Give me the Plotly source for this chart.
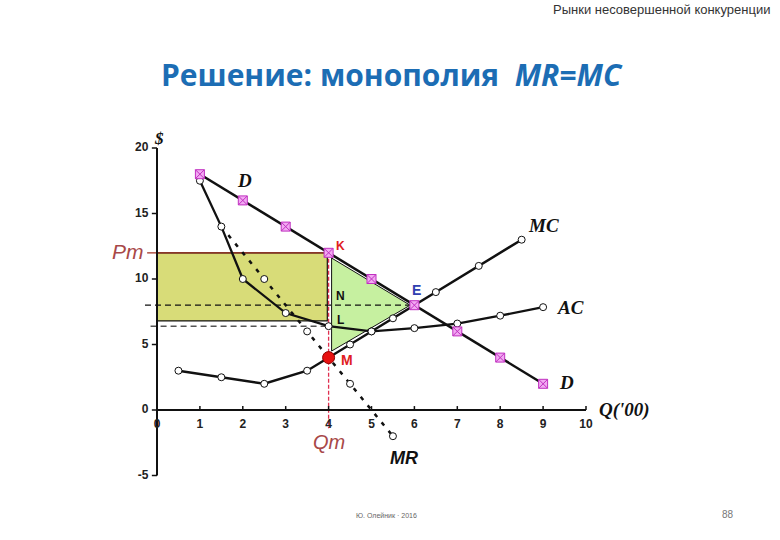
import plotly.graph_objects as go

# ---------------- data ----------------
d_q = [1, 2, 3, 4, 5, 6, 7, 8, 9]
d_p = [18, 16, 14, 12, 10, 8, 6, 4, 2]

mr_q = [1.5, 2.5, 3.5, 4.5, 5.5]
mr_p = [14, 10, 6, 2, -2]

ac_q = [1, 1.5, 2, 3, 4, 5, 6, 7, 8, 9]
ac_p = [17.5, 14, 10, 7.4, 6.4, 6.0, 6.25, 6.6, 7.2, 7.85]

mc_q = [0.5, 1.5, 2.5, 3.5, 4, 4.5, 5, 5.5, 6, 6.5, 7.5, 8.5]
mc_p = [3.0, 2.5, 2.0, 3.0, 4.0, 5.0, 6.0, 7.0, 8.0, 9.0, 11.0, 13.0]

q_m = 4          # monopoly output
q_e = 6          # competitive point E
rect_bottom = 6.8

x_ticks = [0, 1, 2, 3, 4, 5, 6, 7, 8, 9, 10]
y_ticks = [-5, 0, 5, 10, 15, 20]
x_tick_labels = [str(v) for v in x_ticks]
y_tick_labels = [str(v) for v in y_ticks]

# derived values
p_m = d_p[d_q.index(q_m)]          # Pm = 12
p_e = d_p[d_q.index(q_e)]          # 8
mc_at_qm = mc_p[mc_q.index(q_m)]   # 4
ac_at_qm = ac_p[ac_q.index(q_m)]   # 6.4

BLACK = "#111111"
fig = go.Figure()

# shaded rectangle (monopoly profit)
fig.add_shape(type="rect", x0=0, x1=q_m - 0.03, y0=rect_bottom, y1=p_m,
              fillcolor="#d8dc78", line=dict(color=BLACK, width=1.2), layer="below")
# green triangle (deadweight loss)
fig.add_trace(go.Scatter(x=[q_m + 0.07, q_e - 0.1, q_m + 0.07, q_m + 0.07],
                         y=[p_m - 0.4, p_e, mc_at_qm + 0.5, p_m - 0.4],
                         fill="toself", fillcolor="#c6f0a0", mode="lines",
                         line=dict(color=BLACK, width=1), hoverinfo="skip",
                         showlegend=False))

# guide lines
fig.add_trace(go.Scatter(x=[-0.23, q_m], y=[p_m, p_m], mode="lines",
                         line=dict(color="#a03020", width=1.2), showlegend=False))
fig.add_trace(go.Scatter(x=[-0.28, q_e], y=[p_e, p_e], mode="lines",
                         line=dict(color=BLACK, width=1.2, dash="6px,4px"), showlegend=False))
fig.add_trace(go.Scatter(x=[-0.15, q_m], y=[ac_at_qm, ac_at_qm], mode="lines",
                         line=dict(color="#555555", width=1.5, dash="6px,4px"), showlegend=False))
fig.add_trace(go.Scatter(x=[q_m, q_m], y=[p_m, -1.4], mode="lines",
                         line=dict(color="#e03050", width=1.3, dash="4px,2px"), showlegend=False))

# axes drawn as lines
fig.add_trace(go.Scatter(x=[0, 0], y=[min(y_ticks), max(y_ticks)], mode="lines",
                         line=dict(color=BLACK, width=2), showlegend=False))
fig.add_trace(go.Scatter(x=[0, max(x_ticks)], y=[0, 0], mode="lines",
                         line=dict(color=BLACK, width=2), showlegend=False))
for v in y_ticks:
    fig.add_shape(type="line", x0=-0.12, x1=0, y0=v, y1=v, line=dict(color=BLACK, width=1.5))
for v in x_ticks[1:]:
    fig.add_shape(type="line", x0=v, x1=v, y0=0, y1=0.3, line=dict(color=BLACK, width=1.5))

fig.add_trace(go.Scatter(x=[-0.2] * len(y_ticks), y=y_ticks,
                         text=["<b>%s</b>" % t for t in y_tick_labels],
                         mode="text", textposition="middle left",
                         textfont=dict(family="Liberation Sans", size=12, color="#222222"),
                         showlegend=False))
fig.add_trace(go.Scatter(x=x_ticks, y=[-1.15] * len(x_ticks),
                         text=["<b>%s</b>" % t for t in x_tick_labels],
                         mode="text", textposition="middle center",
                         textfont=dict(family="Liberation Sans", size=12, color="#222222"),
                         showlegend=False))

# MR (dashed)
fig.add_trace(go.Scatter(x=mr_q, y=mr_p, mode="lines",
                         line=dict(color=BLACK, width=2.5, dash="4px,7px"), showlegend=False))
fig.add_trace(go.Scatter(x=mr_q[1:], y=mr_p[1:], mode="markers",
                         marker=dict(symbol="circle", size=7, color="white",
                                     line=dict(color=BLACK, width=1)), showlegend=False))
# AC
fig.add_trace(go.Scatter(x=ac_q, y=ac_p, mode="lines+markers",
                         line=dict(color=BLACK, width=2.3),
                         marker=dict(symbol="circle", size=7, color="white",
                                     line=dict(color=BLACK, width=1)), showlegend=False))
# MC
fig.add_trace(go.Scatter(x=mc_q, y=mc_p, mode="lines+markers",
                         line=dict(color=BLACK, width=2.5),
                         marker=dict(symbol="circle", size=7, color="white",
                                     line=dict(color=BLACK, width=1)), showlegend=False))
# D
fig.add_trace(go.Scatter(x=d_q, y=d_p, mode="lines+markers",
                         line=dict(color=BLACK, width=2.5),
                         marker=dict(symbol="square-x", size=9, color="#f2a8f2",
                                     line=dict(color="#c030c0", width=1)), showlegend=False))
# M point
fig.add_trace(go.Scatter(x=[q_m], y=[mc_at_qm], mode="markers",
                         marker=dict(symbol="circle", size=12, color="#e81010",
                                     line=dict(color="#900000", width=1)), showlegend=False))

# ---------------- labels ----------------
serif_bi = dict(family="Liberation Serif", size=19, color=BLACK)
ann = []
def A(x, y, t, font, xanchor="center"):
    ann.append(dict(x=x, y=y, xref="x", yref="y", text=t, showarrow=False,
                    font=font, xanchor=xanchor, yanchor="middle"))

A(2.05, 17.5, "<b><i>D</i></b>", serif_bi)
A(9.55, 2.1, "<b><i>D</i></b>", serif_bi)
A(9.0, 14.1, "<b><i>MC</i></b>", serif_bi)
A(9.65, 7.8, "<b><i>AC</i></b>", serif_bi)
A(5.75, -3.65, "<b><i>MR</i></b>", dict(family="Liberation Sans", size=18, color=BLACK))
A(10.25, 0.0, "<b><i>Q('00)</i></b>", serif_bi, xanchor="left")
A(0.05, 20.7, "<b><i>$</i></b>", dict(family="Liberation Serif", size=17, color=BLACK))
A(-0.67, 12.1, "<i>Pm</i>", dict(family="Liberation Sans", size=21, color="#a84848"))
A(q_m, -2.45, "<i>Qm</i>", dict(family="Liberation Sans", size=20, color="#a84848"))
A(q_m + 0.28, 12.5, "<b>K</b>", dict(family="Liberation Sans", size=12, color="#e02020"))
A(q_m + 0.27, 8.7, "<b>N</b>", dict(family="Liberation Sans", size=12, color=BLACK))
A(q_m + 0.27, 6.9, "<b>L</b>", dict(family="Liberation Sans", size=12, color=BLACK))
A(q_e + 0.05, 9.15, "<b>E</b>", dict(family="Liberation Sans", size=14, color="#3040b0"))
A(q_m + 0.43, 3.8, "<b>M</b>", dict(family="Liberation Sans", size=14, color="#e02020"))

# page texts (y in pixels from top)
page = [
    dict(x=0.503, y=75, text="<b>Решение: монополия  <i>MR=MC</i></b>", size=30,
         color="#1c6db4", family="Open Sans", xanchor="center"),
    dict(x=0.99, y=10, text="Рынки несовершенной конкуренции", size=13,
         color="#333333", family="Liberation Sans", xanchor="right"),
    dict(x=0.495, y=515, text="Ю. Олейник · 2016", size=7,
         color="#666666", family="Liberation Sans", xanchor="center"),
    dict(x=0.933, y=514, text="88", size=10,
         color="#777777", family="Liberation Sans", xanchor="center"),
]
for p in page:
    ann.append(dict(x=p["x"], y=1 - p["y"] / 540, xref="paper", yref="paper",
                    text=p["text"], showarrow=False, xanchor=p["xanchor"], yanchor="middle",
                    font=dict(size=p["size"], color=p["color"], family=p["family"])))

W, H = 780, 540
x0_px, x_scale = 157, 42.9
y0_px, y_scale = 410, 13.1
xr = [(0 - x0_px) / x_scale, (W - x0_px) / x_scale]
yr = [(y0_px - H) / y_scale, y0_px / y_scale]

fig.update_layout(
    width=W, height=H, margin=dict(l=0, r=0, t=0, b=0),
    paper_bgcolor="white", plot_bgcolor="white",
    xaxis=dict(range=xr, visible=False, fixedrange=True),
    yaxis=dict(range=yr, visible=False, fixedrange=True),
    annotations=ann, showlegend=False,
)
fig.write_html("out.html", config={"displayModeBar": False},
               post_script="document.body.style.margin='0';document.body.style.overflow='hidden';")
